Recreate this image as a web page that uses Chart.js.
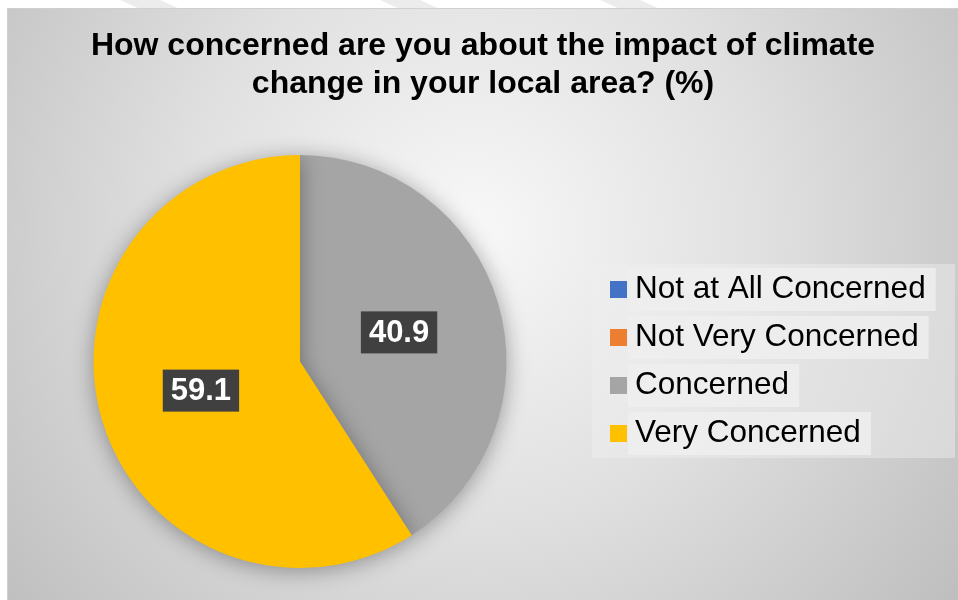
<html>

<head></head>
<script src="https://cdn.jsdelivr.net/npm/chart.js"></script>

<body style="margin:0; background:#fff;">
  <div style="position:relative; width:958px; height:600px;">
    <canvas id="myChart" width="958" height="600"></canvas>
  </div>
</body>

<script>

  // data
  const labels = ['Not at All Concerned', 'Not Very Concerned', 'Concerned', 'Very Concerned'];
  const values = [0, 0, 40.9, 59.1];
  const colors = ['#4472C4', '#ED7D31', '#A5A5A5', '#FFC000'];
  const titleLines = ['How concerned are you about the impact of climate', 'change in your local area? (%)'];

  const FONT = "'Liberation Sans', Arial, sans-serif";

  // gradient panel behind everything
  const background = {
    id: 'background',
    beforeDraw(chart) {
      const ctx = chart.ctx;
      ctx.save();
      ctx.fillStyle = '#ffffff';
      ctx.fillRect(0, 0, chart.width, chart.height);
      // faint watermark stripes in the white band
      ctx.fillStyle = '#ececec';
      [[120, 260], [380, 520], [600, 740]].forEach(function (s) {
        ctx.beginPath();
        ctx.moveTo(s[0], 0); ctx.lineTo(s[0] + 40, 0);
        ctx.lineTo(s[0] + 60, 9); ctx.lineTo(s[0] + 20, 9);
        ctx.closePath(); ctx.fill();
      });
      const g = ctx.createRadialGradient(475, 230, 20, 475, 230, 620);
      g.addColorStop(0, '#f6f6f6');
      g.addColorStop(0.45, '#e0e0e0');
      g.addColorStop(1, '#bdbdbd');
      ctx.fillStyle = g;
      ctx.fillRect(7, 8, chart.width - 7, chart.height - 8);
      ctx.strokeStyle = '#cfcfcf';
      ctx.lineWidth = 1;
      ctx.beginPath();
      ctx.moveTo(7.5, chart.height); ctx.lineTo(7.5, 8.5); ctx.lineTo(chart.width, 8.5);
      ctx.stroke();
      ctx.restore();
    },
    beforeDatasetsDraw(chart) {
      // title, two centred lines
      const ctx = chart.ctx;
      ctx.save();
      ctx.font = 'bold 32px ' + FONT;
      ctx.fillStyle = '#000000';
      ctx.textAlign = 'center';
      ctx.textBaseline = 'alphabetic';
      titleLines.forEach(function (t, i) {
        ctx.fillText(t, 483, 55 + i * 38);
      });
      ctx.restore();
    }
  };

  // soft shadow under the pie
  const pieShadow = {
    id: 'pieShadow',
    beforeDatasetsDraw(chart) {
      const ctx = chart.ctx;
      ctx.save();
      ctx.shadowColor = 'rgba(0,0,0,0.35)';
      ctx.shadowBlur = 22;
      ctx.shadowOffsetY = 3;
    },
    afterDatasetsDraw(chart) {
      chart.ctx.restore();
    }
  };

  // dark boxes with the values
  const valueLabels = {
    id: 'valueLabels',
    afterDatasetsDraw(chart) {
      const ctx = chart.ctx;
      const meta = chart.getDatasetMeta(0);
      ctx.save();
      ctx.font = 'bold 31px ' + FONT;
      ctx.textAlign = 'center';
      ctx.textBaseline = 'middle';
      meta.data.forEach(function (arc, i) {
        if (!values[i]) return;
        const p = arc.tooltipPosition();
        const txt = values[i].toFixed(1);
        const w = ctx.measureText(txt).width + 16;
        const h = 42;
        ctx.fillStyle = '#404040';
        ctx.fillRect(p.x - w / 2, p.y - h / 2, w, h);
        ctx.fillStyle = '#ffffff';
        ctx.fillText(txt, p.x, p.y + 1);
      });
      ctx.restore();
    }
  };

  // legend on the right with its light text boxes
  const sideLegend = {
    id: 'sideLegend',
    afterDraw(chart) {
      const ctx = chart.ctx;
      const y0 = 289.5, step = 48;
      ctx.save();
      ctx.fillStyle = 'rgba(240,240,240,0.45)';
      ctx.fillRect(592, 264, 363, 194);
      ctx.font = '31.5px ' + FONT;
      ctx.textBaseline = 'alphabetic';
      labels.forEach(function (lab, i) {
        const y = y0 + i * step;
        const tw = ctx.measureText(lab).width;
        ctx.fillStyle = 'rgba(238,238,238,0.85)';
        ctx.fillRect(628, y - 21.5, tw + 17, 43);
        ctx.fillStyle = colors[i];
        ctx.fillRect(610, y - 8.5, 17, 17);
        ctx.fillStyle = '#000000';
        ctx.fillText(lab, 635, y + 8);
      });
      ctx.restore();
    }
  };

  const data = {
    labels: labels,
    datasets: [{
      data: values,
      backgroundColor: colors,
      borderWidth: 0
    }]
  };

  const config = {
    type: 'pie',
    data: data,
    options: {
      responsive: false,
      animation: false,
      layout: {
        padding: { left: 93, right: 451, top: 155, bottom: 32 }
      },
      plugins: {
        legend: { display: false },
        tooltip: { enabled: false },
        title: { display: false }
      }
    },
    plugins: [background, pieShadow, valueLabels, sideLegend]
  };

  const myChart = new Chart(
    document.getElementById('myChart'),
    config
  );
</script>

</html>
